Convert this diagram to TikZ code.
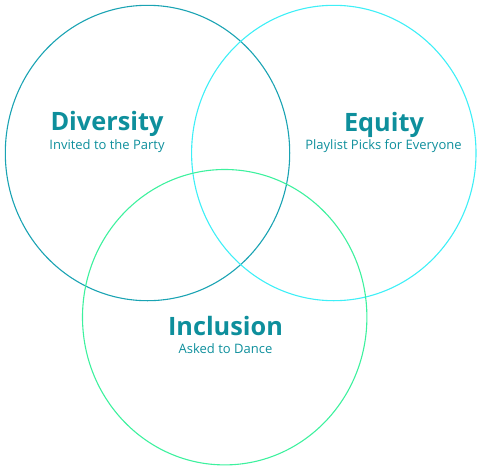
\documentclass[tikz,border=0pt]{standalone}
\usepackage{fontspec}
\setmainfont{Open Sans}
\definecolor{divc}{HTML}{1AA3B3}
\definecolor{equc}{HTML}{3EEFF7}
\definecolor{incc}{HTML}{3DF19E}
\definecolor{txtc}{HTML}{0E8F9C}
\begin{document}
\begin{tikzpicture}[x=1pt,y=-1pt,
  ring/.style={line width=1.1pt},
  title/.style={text=txtc,font=\bfseries\fontsize{25.3}{25}\selectfont,anchor=base,inner sep=0pt},
  sub/.style={text=txtc,font=\fontsize{13}{13}\selectfont,anchor=base,inner sep=0pt}]
\useasboundingbox (0,0) rectangle (500,471);
\draw[ring,divc] (147.5,153) ellipse [x radius=142.2, y radius=147.7];
\draw[ring,equc] (333.8,153) ellipse [x radius=142.2, y radius=147.7];
\draw[ring,incc] (224.7,317.2) ellipse [x radius=142.2, y radius=147.7];
\node[title] (dt) at (107,130) {Diversity};
\node[sub] (ds) at (107,149) {Invited to the Party};
\node[title] (et) at (384,131) {Equity};
\node[sub] (es) at (383.5,149) {Playlist Picks for Everyone};
\node[title] (it) at (225.5,335.7) {Inclusion};
\node[sub] (is) at (225.5,353) {Asked to Dance};
\end{tikzpicture}
\end{document}
